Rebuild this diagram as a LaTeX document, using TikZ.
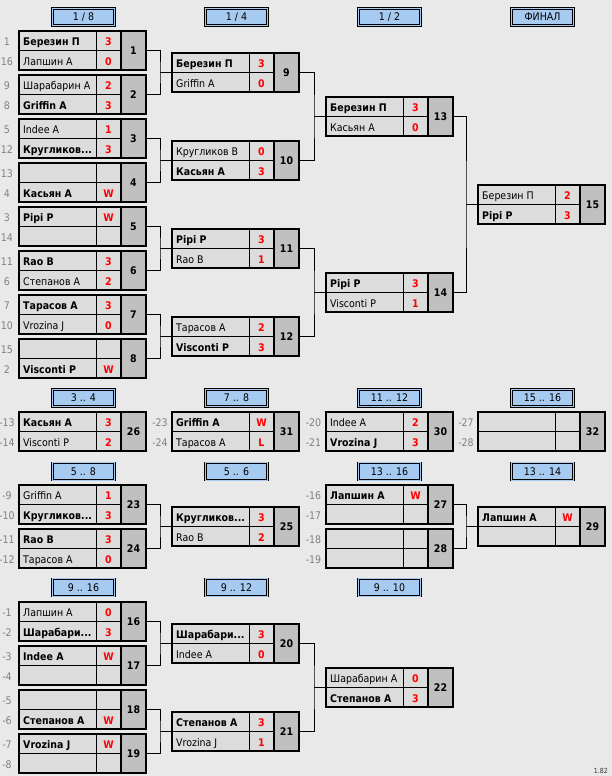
\documentclass[tikz,border=0pt]{standalone}
\usepackage{fontspec}
\setmainfont{DejaVu Sans Condensed}
\definecolor{pagebg}{RGB}{233,233,233}
\definecolor{cellbg}{RGB}{220,220,220}
\definecolor{numbg}{RGB}{192,192,192}
\definecolor{hdrblue}{RGB}{166,202,240}
\definecolor{seedgray}{RGB}{128,128,128}
\definecolor{scorered}{RGB}{255,0,0}
\tikzset{
  mbox/.style={draw=black,line width=2pt,minimum width=127pt,minimum height=39pt,inner sep=0pt,outer sep=0pt},
  pname/.style={anchor=base west,inner sep=0pt,font=\fontsize{10.5}{12}\selectfont},
  pscore/.style={anchor=base,inner sep=0pt,text=scorered,font=\fontsize{10.5}{12}\selectfont\bfseries},
  pnum/.style={anchor=base,inner sep=0pt,font=\fontsize{10.5}{12}\selectfont\bfseries},
  seed/.style={anchor=base,inner sep=0pt,text=seedgray,font=\fontsize{10.5}{12}\selectfont},
  hdr/.style={draw=black,line width=0.7pt,double=hdrblue,double distance=1pt,fill=hdrblue,
    minimum width=62pt,minimum height=17.3pt,inner sep=0pt,text height=7.6pt,text depth=0pt,
    font=\fontsize{10.5}{12}\selectfont},
  conn/.style={draw=black,line width=0.8pt},
  thinrule/.style={draw=black,line width=0.8pt},
}
\newcommand\mm[7]{%
\begin{scope}[shift={(#2,#3)}]
 \fill[cellbg] (0,0) rectangle (102,39);
 \fill[numbg] (102,0) rectangle (127,39);
 \draw[thinrule] (0,19.5) -- (102,19.5);
 \draw[thinrule] (77,0) -- (77,39);
 \draw[line width=2pt] (102,0) -- (102,39);
 \node[pname] (m#1a) at (4,14.9) {#4};
 \node[pscore] (m#1sa) at (89.5,14.9) {#5};
 \node[pname] (m#1b) at (4,34.2) {#6};
 \node[pscore] (m#1sb) at (89.5,34.2) {#7};
 \node[pnum] (m#1n) at (114.5,23.4) {#1};
 \node[mbox] (m#1) at (63.5,19.5) {};
\end{scope}}
\newcommand\sd[5]{%
 \node[seed] (s#1a) at (#2,#3+14.9) {#4};
 \node[seed] (s#1b) at (#2,#3+34.2) {#5};}
\newcommand\br[3]{%
 \draw[conn] (m#1.east) -| ([xshift=-12pt]m#3.west) |- (m#2.east);
 \draw[conn] ([xshift=-12pt]m#3.west) -- (m#3.west);}
\begin{document}
\begin{tikzpicture}[x=1pt,y=-1pt]
\useasboundingbox (0,0) rectangle (612,776);
\fill[pagebg] (0,0) rectangle (612,776);
% headers
\node[hdr] (h1) at (83.5,17) {1 / 8};
\node[hdr] (h2) at (236.5,17) {1 / 4};
\node[hdr] (h3) at (389.5,17) {1 / 2};
\node[hdr] (h4) at (542.5,17) {ФИНАЛ};
\node[hdr] (h5) at (83.5,398) {3 .. 4};
\node[hdr] (h6) at (236.5,398) {7 .. 8};
\node[hdr] (h7) at (389.5,398) {11 .. 12};
\node[hdr] (h8) at (542.5,398) {15 .. 16};
\node[hdr] (h9) at (83.5,471.5) {5 .. 8};
\node[hdr] (h10) at (236.5,471.5) {5 .. 6};
\node[hdr] (h11) at (389.5,471.5) {13 .. 16};
\node[hdr] (h12) at (542.5,471.5) {13 .. 14};
\node[hdr] (h13) at (83.5,587.5) {9 .. 16};
\node[hdr] (h14) at (236.5,587.5) {9 .. 12};
\node[hdr] (h15) at (389.5,587.5) {9 .. 10};
% upper bracket
\mm{1}{19}{31}{\bfseries Березин П}{3}{Лапшин А}{0}
\mm{2}{19}{75}{Шарабарин А}{2}{\bfseries Griffin A}{3}
\mm{3}{19}{119}{Indee A}{1}{\bfseries Кругликов...}{3}
\mm{4}{19}{163}{}{}{\bfseries Касьян А}{W}
\mm{5}{19}{207}{\bfseries Pipi P}{W}{}{}
\mm{6}{19}{251}{\bfseries Rao B}{3}{Степанов А}{2}
\mm{7}{19}{295}{\bfseries Тарасов А}{3}{Vrozina J}{0}
\mm{8}{19}{339}{}{}{\bfseries Visconti P}{W}
\mm{9}{172}{53}{\bfseries Березин П}{3}{Griffin A}{0}
\mm{10}{172}{141}{Кругликов В}{0}{\bfseries Касьян А}{3}
\mm{11}{172}{229}{\bfseries Pipi P}{3}{Rao B}{1}
\mm{12}{172}{317}{Тарасов А}{2}{\bfseries Visconti P}{3}
\mm{13}{326}{97}{\bfseries Березин П}{3}{Касьян А}{0}
\mm{14}{326}{273}{\bfseries Pipi P}{3}{Visconti P}{1}
\mm{15}{478}{185}{Березин П}{2}{\bfseries Pipi P}{3}
\sd{1}{7}{31}{1}{16}
\sd{2}{7}{75}{9}{8}
\sd{3}{7}{119}{5}{12}
\sd{4}{7}{163}{13}{4}
\sd{5}{7}{207}{3}{14}
\sd{6}{7}{251}{11}{6}
\sd{7}{7}{295}{7}{10}
\sd{8}{7}{339}{15}{2}
\br{1}{2}{9}
\br{3}{4}{10}
\br{5}{6}{11}
\br{7}{8}{12}
\br{9}{10}{13}
\br{11}{12}{14}
\br{13}{14}{15}
% places 3-8, 11-16
\mm{26}{19}{412}{\bfseries Касьян А}{3}{Visconti P}{2}
\mm{31}{172}{412}{\bfseries Griffin A}{W}{Тарасов А}{L}
\mm{30}{326}{412}{Indee A}{2}{\bfseries Vrozina J}{3}
\mm{32}{478}{412}{}{}{}{}
\sd{26}{7}{412}{-13}{-14}
\sd{31}{160}{412}{-23}{-24}
\sd{30}{313.5}{412}{-20}{-21}
\sd{32}{466}{412}{-27}{-28}
\mm{23}{19}{485}{Griffin A}{1}{\bfseries Кругликов...}{3}
\mm{24}{19}{529}{\bfseries Rao B}{3}{Тарасов А}{0}
\mm{25}{172}{507}{\bfseries Кругликов...}{3}{Rao B}{2}
\mm{27}{326}{485}{\bfseries Лапшин А}{W}{}{}
\mm{28}{326}{529}{}{}{}{}
\mm{29}{478}{507}{\bfseries Лапшин А}{W}{}{}
\sd{23}{7}{485}{-9}{-10}
\sd{24}{7}{529}{-11}{-12}
\sd{27}{313.5}{485}{-16}{-17}
\sd{28}{313.5}{529}{-18}{-19}
\br{23}{24}{25}
\br{27}{28}{29}
% places 9-16
\mm{16}{19}{602}{Лапшин А}{0}{\bfseries Шарабари...}{3}
\mm{17}{19}{646}{\bfseries Indee A}{W}{}{}
\mm{18}{19}{690}{}{}{\bfseries Степанов А}{W}
\mm{19}{19}{734}{\bfseries Vrozina J}{W}{}{}
\mm{20}{172}{624}{\bfseries Шарабари...}{3}{Indee A}{0}
\mm{21}{172}{712}{\bfseries Степанов А}{3}{Vrozina J}{1}
\mm{22}{326}{668}{Шарабарин А}{0}{\bfseries Степанов А}{3}
\sd{16}{7}{602}{-1}{-2}
\sd{17}{7}{646}{-3}{-4}
\sd{18}{7}{690}{-5}{-6}
\sd{19}{7}{734}{-7}{-8}
\br{16}{17}{20}
\br{18}{19}{21}
\br{20}{21}{22}
\node[anchor=base east,inner sep=0pt,text=black!80,font=\fontsize{7}{8}\selectfont] (ver) at (608,773) {1.82};
\end{tikzpicture}
\end{document}
